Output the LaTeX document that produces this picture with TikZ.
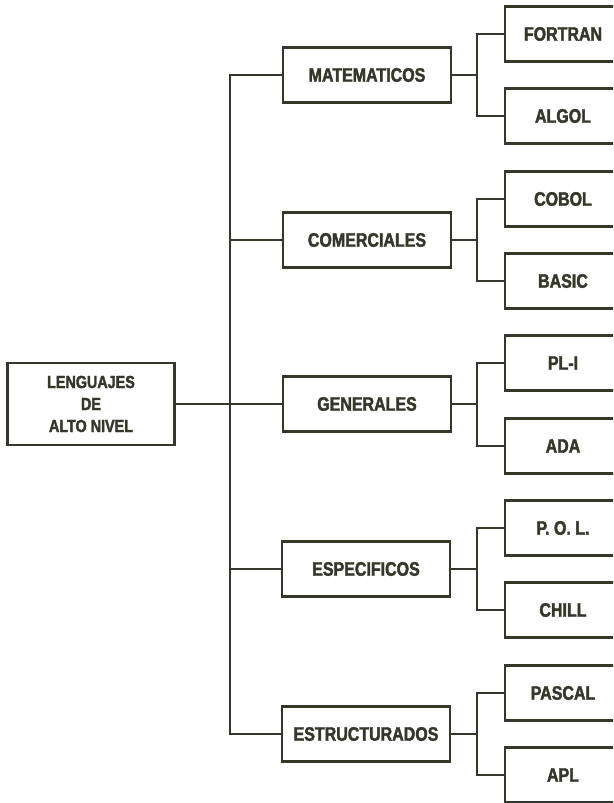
\documentclass[tikz,border=0pt]{standalone}
\usepackage{fontspec}
\setmainfont{Liberation Sans}
\newfontfamily\condbold{Liberation Sans}[FakeStretch=0.82,
  BoldFeatures={FakeBold=2}]
\definecolor{ink}{RGB}{52,56,42}
\begin{document}
\begin{tikzpicture}[x=1pt,y=-1pt,
  every node/.style={text=ink},
  box/.style={draw=ink,line width=2.4pt,rectangle,inner sep=0pt,
    font=\condbold\bfseries\fontsize{19.5}{22}\selectfont},
  rootbox/.style={box,minimum width=167pt,minimum height=82pt,align=center,
    font=\condbold\bfseries\fontsize{17.5}{22}\selectfont},
  midbox/.style={box,minimum width=168pt,minimum height=55pt},
  leafbox/.style={box,minimum width=116pt,minimum height=55pt},
  link/.style={draw=ink,line width=1.2pt}]
\useasboundingbox (0,0) rectangle (613,803);
\clip (0,0) rectangle (613,803);

% root
\node[rootbox] (root) at (91,404) {LENGUAJES\\DE\\ALTO NIVEL};

% second level
\node[midbox] (mat) at (367,75)  {MATEMATICOS};
\node[midbox] (com) at (367,240) {COMERCIALES};
\node[midbox] (gen) at (367,404) {GENERALES};
\node[midbox] (esp) at (366,569) {ESPECIFICOS};
\node[midbox] (est) at (366,734) {ESTRUCTURADOS};

% languages
\node[leafbox] (fortran) at (563,34)  {FORTRAN};
\node[leafbox] (algol)   at (563,116) {ALGOL};
\node[leafbox] (cobol)   at (563,199) {COBOL};
\node[leafbox] (basic)   at (563,281) {BASIC};
\node[leafbox] (pli)     at (563,363) {PL-I};
\node[leafbox] (ada)     at (563,446) {ADA};
\node[leafbox] (pol)     at (563,528) {P. O. L.};
\node[leafbox] (chill)   at (563,610) {CHILL};
\node[leafbox] (pascal)  at (563,693) {PASCAL};
\node[leafbox] (apl)     at (563,775) {APL};

% trunk and branch lines
\coordinate (tx) at (230,0);
\coordinate (sx) at (477,0);
\draw[link] (root.east) -- (root.east -| tx);
\draw[link] (mat.west) -- (mat.west -| tx) -- (est.west -| tx) -- (est.west);
\foreach \n in {com,gen,esp} \draw[link] (\n.west) -- (\n.west -| tx);

\foreach \p/\a/\b in {mat/fortran/algol, com/cobol/basic, gen/pli/ada,
                      esp/pol/chill, est/pascal/apl} {
  \draw[link] (\p.east) -- (\p.east -| sx);
  \draw[link] (\a.west) -- (\a.west -| sx) -- (\b.west -| sx) -- (\b.west);
}
\end{tikzpicture}
\end{document}
